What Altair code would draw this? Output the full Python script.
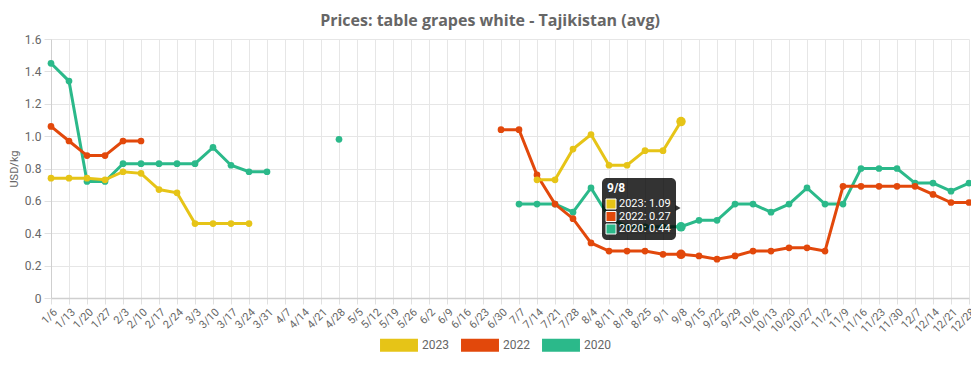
import altair as alt
import pandas as pd

weeks = ["1/6", "1/13", "1/20", "1/27", "2/3", "2/10", "2/17", "2/24", "3/3", "3/10",
         "3/17", "3/24", "3/31", "4/7", "4/14", "4/21", "4/28", "5/5", "5/12", "5/19",
         "5/26", "6/2", "6/9", "6/16", "6/23", "6/30", "7/7", "7/14", "7/21", "7/28",
         "8/4", "8/11", "8/18", "8/25", "9/1", "9/8", "9/15", "9/22", "9/29", "10/6",
         "10/13", "10/20", "10/27", "11/2", "11/9", "11/16", "11/23", "11/30", "12/7",
         "12/14", "12/21", "12/28"]
N = None
y2023 = ([0.74, 0.74, 0.74, 0.73, 0.78, 0.77, 0.67, 0.65, 0.46, 0.46, 0.46, 0.46]
         + [N] * 15
         + [0.73, 0.73, 0.92, 1.01, 0.82, 0.82, 0.91, 0.91, 1.09]
         + [N] * 16)
y2022 = ([1.06, 0.97, 0.88, 0.88, 0.97, 0.97]
         + [N] * 19
         + [1.04, 1.04, 0.76, 0.58, 0.49, 0.34, 0.29, 0.29, 0.29, 0.27, 0.27, 0.26, 0.24,
            0.26, 0.29, 0.29, 0.31, 0.31, 0.29, 0.69, 0.69, 0.69, 0.69, 0.69, 0.64, 0.59, 0.59])
y2020 = ([1.45, 1.34, 0.72, 0.72, 0.83, 0.83, 0.83, 0.83, 0.83, 0.93, 0.82, 0.78, 0.78]
         + [N] * 3 + [0.98] + [N] * 9
         + [0.58, 0.58, 0.58, 0.53, 0.68, 0.50, 0.44, 0.44, 0.44, 0.44, 0.48, 0.48, 0.58,
            0.58, 0.53, 0.58, 0.68, 0.58, 0.58, 0.80, 0.80, 0.80, 0.71, 0.71, 0.66, 0.71])

series_names = ["2023", "2022", "2020"]
series_values = {"2023": y2023, "2022": y2022, "2020": y2020}
colors = ["#e6c417", "#e2480b", "#2bb98a"]

hover_week = "9/8"
tooltip_lines = ["2023: 1.09", "2022: 0.27", "2020: 0.44"]

rows = []
for s in series_names:
    seg = 0
    prev = None
    for i, (w, v) in enumerate(zip(weeks, series_values[s])):
        if v is None:
            prev = None
            continue
        if prev is None:
            seg += 1
        rows.append({"week": w, "value": v, "series": s, "seg": f"{s}-{seg}"})
        prev = v
df = pd.DataFrame(rows)

color_scale = alt.Scale(domain=series_names, range=colors)
x_scale = alt.Scale(type="point", padding=0, domain=weeks)
x_enc = alt.X("week:O", scale=x_scale, title=None,
              axis=alt.Axis(labelAngle=-45, grid=True, gridColor="#e6e6e6",
                            tickColor="#e0e0e0", tickSize=6, domainColor="#cfcfcf",
                            domainWidth=1.5, labelColor="#666", labelFont="Roboto",
                            labelFontSize=11, labelPadding=2))
y_enc = alt.Y("value:Q", scale=alt.Scale(domain=[0, 1.6]), title="USD/kg",
              axis=alt.Axis(values=[0, 0.2, 0.4, 0.6, 0.8, 1.0, 1.2, 1.4, 1.6],
                            labelExpr="datum.value == 0 ? '0' : format(datum.value, '.1f')",
                            grid=True, gridColor="#e6e6e6", tickColor="#e0e0e0",
                            tickSize=7, domainColor="#cfcfcf", labelColor="#666",
                            labelFont="Roboto", labelFontSize=12, labelPadding=3,
                            titleFont="Roboto", titleFontSize=11, titleColor="#666",
                            titleFontWeight="normal", titlePadding=5))

legend_shape = "M-1.46,-0.5L1.46,-0.5L1.46,0.5L-1.46,0.5Z"
legend = alt.Legend(title=None, orient="none", direction="horizontal",
                    legendX=335, legendY=293, symbolType=legend_shape, symbolSize=676,
                    symbolStrokeWidth=0, symbolOpacity=1, labelOffset=10,
                    columnPadding=12, labelFont="Roboto", labelFontSize=12,
                    labelColor="#666", padding=0)

base = alt.Chart(df)
layers = []
for k in reversed(range(len(series_names))):
    s = series_names[k]
    sub = base.transform_filter(alt.datum.series == s)
    layers.append(sub.mark_line(strokeWidth=3, color=colors[k]).encode(
        x=x_enc, y=y_enc, detail="seg:N"))
    layers.append(sub.mark_point(filled=True, size=45, opacity=1).encode(
        x=x_enc, y=y_enc,
        color=alt.Color("series:N", scale=color_scale, legend=legend)))
    layers.append(sub.transform_filter(alt.datum.week == hover_week).mark_point(
        filled=True, size=90, opacity=1, color=colors[k]).encode(x=x_enc, y=y_enc))

tip_df = pd.DataFrame({"week": [hover_week]})
tip_base = alt.Chart(tip_df)
tx_enc = alt.X("week:O", scale=x_scale)
tip_box = tip_base.mark_rect(color="black", opacity=0.8, cornerRadius=5,
                             xOffset=-79, x2Offset=-5).encode(
    x=tx_enc, x2="week:O", y=alt.value(139), y2=alt.value(201))
tip_arrow = tip_base.mark_point(shape="triangle-right", filled=True, color="black",
                                opacity=0.8, size=35, xOffset=-3).encode(
    x=tx_enc, y=alt.value(169))
tip_title = tip_base.mark_text(text=hover_week, align="left", baseline="middle",
                               color="white", font="Roboto", fontSize=12,
                               fontWeight="bold", dx=-74).encode(
    x=tx_enc, y=alt.value(149))
layers += [tip_box, tip_arrow, tip_title]
row_y = [165, 177.5, 190]
for k, s in enumerate(series_names):
    sq = tip_base.mark_square(size=100, filled=True, color=colors[k], opacity=1,
                              stroke="white", strokeWidth=1, xOffset=-70).encode(
        x=tx_enc, y=alt.value(row_y[k]))
    tx = tip_base.mark_text(text=tooltip_lines[k], align="left", baseline="middle",
                            color="white", font="Roboto", fontSize=11,
                            dx=-62).encode(
        x=tx_enc, y=alt.value(row_y[k]))
    layers += [sq, tx]

chart = alt.layer(*layers).properties(
    width=918, height=259,
    autosize=alt.AutoSizeParams(type="none"),
    padding={"left": 43, "top": 31, "right": 2, "bottom": 59},
    title=alt.TitleParams("Prices: table grapes white - Tajikistan (avg)",
                          font="Open Sans", fontSize=16, fontWeight="bold",
                          color="#666", anchor="middle", dx=-20, offset=4),
).configure_view(stroke=None).configure_axisX(labelAlign="right")

chart.save("out.html", embed_options={"renderer": "svg", "actions": False})
